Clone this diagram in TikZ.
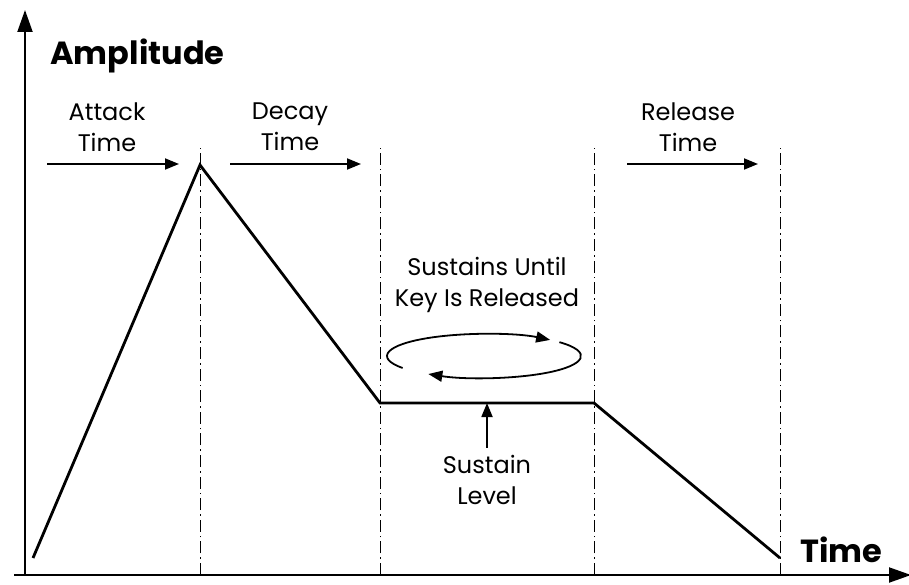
\documentclass[tikz,border=0pt]{standalone}
\usepackage{fontspec}
\setmainfont{Poppins}
\usetikzlibrary{positioning, arrows.meta, calc}

\begin{document}
\begin{tikzpicture}[x=0.5pt, y=0.5pt,
    axis/.style={line width=1pt, -{Triangle[length=11pt, width=7.5pt]}},
    phase/.style={line width=0.5pt, dash pattern=on 6pt off 2pt on 0.8pt off 2pt},
    span/.style={line width=0.9pt, -{Triangle[length=7pt, width=5.5pt]}},
    envelope/.style={line width=1.4pt, line join=miter},
    lbl/.style={align=center, inner sep=0pt, font=\fontsize{12}{15.5}\selectfont},
    title/.style={inner sep=0pt, font=\fontsize{16}{19}\selectfont\bfseries}]
    \useasboundingbox (0,0) rectangle (909,584);

    % axes
    \coordinate (origin) at (25,9);
    \coordinate (ytop) at (25,574);
    \coordinate (xleft) at (14,9);
    \coordinate (xright) at (911,9);
    \draw[axis] (origin) -- (ytop);
    \draw[axis] (xleft) -- (xright);
    \node[title, anchor=base west] (amp) at (50,519) {Amplitude};
    \node[title, anchor=base west] (time) at (800,22) {Time};

    % envelope
    \coordinate (start) at (33,26);
    \coordinate (peak) at (200,419);
    \coordinate (sus1) at (380,181);
    \coordinate (sus2) at (594,181);
    \coordinate (end) at (780,26);
    \draw[envelope] (start) -- (peak) -- (sus1) -- (sus2) -- (end);

    % phase borders
    \foreach \px [count=\i] in {200,380,594,780}
      \draw[phase] (\px,9) -- (\px,436);

    % phase arrows and labels
    \coordinate (a1) at (47,420);  \coordinate (a2) at (179,420);
    \coordinate (d1) at (230,420); \coordinate (d2) at (361,420);
    \coordinate (r1) at (627,420); \coordinate (r2) at (758,420);
    \draw[span] (a1) -- (a2);
    \draw[span] (d1) -- (d2);
    \draw[span] (r1) -- (r2);
    \node[lbl] (attack) at (107,457) {Attack\\Time};
    \node[lbl] (decay) at (290,457) {Decay\\Time};
    \node[lbl] (release) at (688,457) {Release\\Time};

    % sustain loop
    \node[lbl] (loop) at (487,299) {Sustains Until\\Key Is Released};
    \coordinate (c) at (484,228);
    \draw[span] ($(c)+(213:97 and 22)$) arc[start angle=213, end angle=47, x radius=97, y radius=22];
    \draw[span] ($(c)+(39:97 and 22)$) arc[start angle=39, end angle=-125, x radius=97, y radius=22];

    % sustain level
    \node[lbl] (level) at (487,104) {Sustain\\Level};
    \coordinate (lvl) at (487,181);
    \draw[span] (level.north) ++(0,7) coordinate (lvlfoot) (lvlfoot) -- (lvl);
\end{tikzpicture}
\end{document}
